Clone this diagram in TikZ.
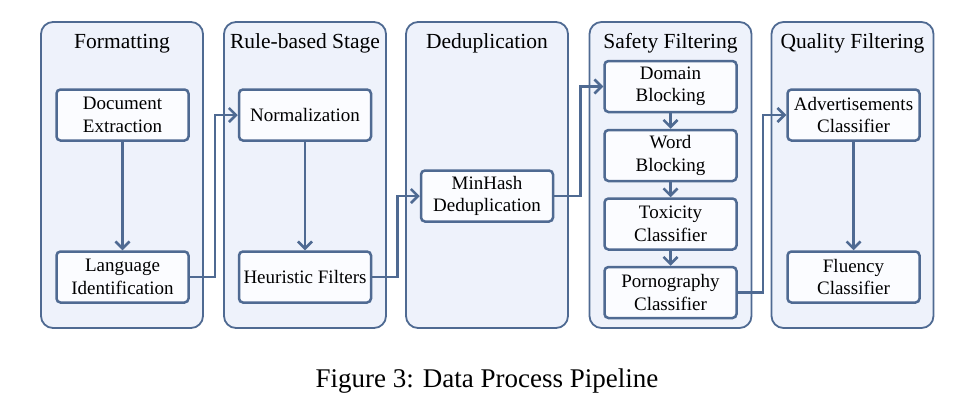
\documentclass[tikz,border=0pt]{standalone}
\usepackage{fontspec}
\setmainfont{Liberation Serif}
\usetikzlibrary{arrows.meta}
\definecolor{edge}{HTML}{4F6A92}
\definecolor{grpfill}{HTML}{EEF2FB}
\definecolor{boxfill}{HTML}{FBFCFF}
\tikzset{
  group/.style={draw=edge, fill=grpfill, line width=1.8pt, rounded corners=12pt,
    minimum width=162pt, minimum height=306pt, inner sep=0pt},
  gtitle/.style={anchor=base, font=\fontsize{21.5}{25}\selectfont, inner sep=0pt},
  stagebox/.style={draw=edge, fill=boxfill, line width=2.5pt, rounded corners=4pt,
    minimum width=132pt, minimum height=51pt, inner sep=0pt, align=center,
    font=\fontsize{19}{22.5}\selectfont},
  arr/.style={draw=edge, line width=2.5pt, -{Straight Barb[length=7pt,width=14pt,line width=2.5pt]}},
}
\begin{document}
\begin{tikzpicture}[x=1pt,y=-1pt]
\useasboundingbox (0,0) rectangle (974,400);
% groups
\node[group] (g1) at (122,175) {};
\node[group] (g2) at (305,175) {};
\node[group] (g3) at (487,175) {};
\node[group] (g4) at (670.5,175) {};
\node[group] (g5) at (852.5,175) {};
\node[gtitle] (t1) at (122,48) {Formatting};
\node[gtitle] (t2) at (305,48) {Rule-based Stage};
\node[gtitle] (t3) at (487,48) {Deduplication};
\node[gtitle] (t4) at (670.5,48) {Safety Filtering};
\node[gtitle] (t5) at (852.5,48) {Quality Filtering};
% boxes
\node[stagebox] (doc) at (122.5,115) {Document\\Extraction};
\node[stagebox] (lang) at (122.5,277) {Language\\Identification};
\node[stagebox] (norm) at (305,115) {Normalization};
\node[stagebox] (heur) at (305,277) {Heuristic Filters};
\node[stagebox] (minh) at (487,196) {MinHash\\Deduplication};
\node[stagebox] (dom) at (670.5,86.5) {Domain\\Blocking};
\node[stagebox] (word) at (670.5,155.5) {Word\\Blocking};
\node[stagebox] (tox) at (670.5,224) {Toxicity\\Classifier};
\node[stagebox] (porn) at (670.5,292.5) {Pornography\\Classifier};
\node[stagebox] (adv) at (853.5,115) {Advertisements\\Classifier};
\node[stagebox] (flu) at (853.5,277) {Fluency\\Classifier};
% connectors
\draw[arr] (doc) -- (lang);
\draw[arr] (norm) -- (heur);
\draw[arr] (adv) -- (flu);
\draw[arr] (dom) -- (word);
\draw[arr] (word) -- (tox);
\draw[arr] (tox) -- (porn);
\draw[arr] (lang.east) -- ++(25,0) |- (norm.west);
\draw[arr] (heur.east) -- ++(25,0) |- (minh.west);
\draw[arr] (minh.east) -- ++(26,0) |- (dom.west);
\draw[arr] (porn.east) -- ++(25,0) |- (adv.west);
% caption
\node[anchor=base, font=\fontsize{27}{32}\selectfont, inner sep=0pt] (cap) at (487,387) {Figure 3: Data Process Pipeline};
\end{tikzpicture}
\end{document}
